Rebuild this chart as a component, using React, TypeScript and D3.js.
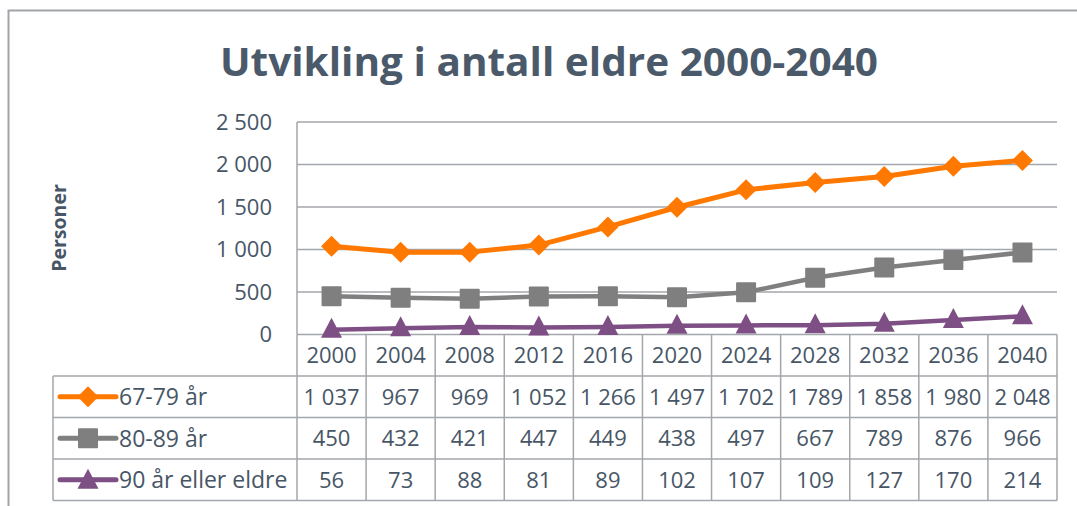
import React from "react";
import * as d3 from "d3";

const years = ["2000", "2004", "2008", "2012", "2016", "2020", "2024", "2028", "2032", "2036", "2040"];
const s6779 = [1037, 967, 969, 1052, 1266, 1497, 1702, 1789, 1858, 1980, 2048];
const s8089 = [450, 432, 421, 447, 449, 438, 497, 667, 789, 876, 966];
const s90 = [56, 73, 88, 81, 89, 102, 107, 109, 127, 170, 214];
const seriesNames = ["67-79 år", "80-89 år", "90 år eller eldre"];
const yTicks = [0, 500, 1000, 1500, 2000, 2500];

const TEXT = "#475666";
const GRID = "#A3A6AA";
const colors = ["#FF7800", "#7F7F7F", "#7E4F84"];
const markers = ["diamond", "square", "triangle"];

const fmt = (v: number) => {
  const s = String(v);
  return s.length > 3 ? s.slice(0, s.length - 3) + " " + s.slice(-3) : s;
};

function Marker({ type, x, y, color }: { type: string; x: number; y: number; color: string }) {
  if (type === "diamond") {
    const r = 10.5;
    return <path d={`M${x},${y - r}L${x + r},${y}L${x},${y + r}L${x - r},${y}Z`} fill={color} />;
  }
  if (type === "square") {
    return <rect x={x - 10} y={y - 10} width={20} height={20} fill={color} rx={1} />;
  }
  return <path d={`M${x},${y - 12}L${x + 10.5},${y + 8}L${x - 10.5},${y + 8}Z`} fill={color} />;
}

export default function App() {
  const W = 1077, H = 506;
  const left = 297, right = 1057, top = 122, bottom = 334.5;
  const x = d3.scaleBand<string>().domain(years).range([left, right]);
  const y = d3.scaleLinear().domain([0, 2500]).range([bottom, top]);
  const all = [s6779, s8089, s90];
  const line = d3
    .line<number>()
    .x((_, i) => (x(years[i]) as number) + x.bandwidth() / 2)
    .y((d) => y(d));

  const tableLeft = 53;
  const rowEdges = [bottom, 376, 417.5, 459, 500.5];
  const font = "'Open Sans', 'Noto Sans', sans-serif";
  const FS = 22;

  return (
    <svg width={W} height={H} style={{ position: "absolute", left: 0, top: 0, background: "#fff" }} fontFamily={font}>
      <rect x={8.5} y={10.5} width={1100} height={600} fill="#fff" stroke="#A0A3A7" strokeWidth={2} />
      <text x={549} y={76} textAnchor="middle" fontSize={39} fontWeight={700} fill="#4B5A6B" textLength={658} lengthAdjust="spacingAndGlyphs">
        Utvikling i antall eldre 2000-2040
      </text>
      <text transform="translate(66,228) rotate(-90)" textAnchor="middle" fontSize={19.5} fontWeight={700} fill={TEXT}>
        Personer
      </text>
      {yTicks.map((t) => (
        <g key={t}>
          {t > 0 && <line x1={left} x2={right} y1={y(t)} y2={y(t)} stroke={GRID} strokeWidth={1.5} />}
          <text x={272} y={y(t)} dy="0.36em" textAnchor="end" fontSize={FS} fill={TEXT}>
            {fmt(t)}
          </text>
        </g>
      ))}
      <line x1={left} x2={left} y1={top} y2={bottom} stroke={GRID} strokeWidth={1.5} />
      {rowEdges.map((ry, i) => (
        <line key={"h" + i} x1={i === 0 ? left : tableLeft} x2={right} y1={ry} y2={ry} stroke={GRID} strokeWidth={1.5} />
      ))}
      <line x1={tableLeft} x2={tableLeft} y1={rowEdges[1]} y2={rowEdges[4]} stroke={GRID} strokeWidth={1.5} />
      {years.map((yr) => (
        <line key={"v" + yr} x1={x(yr) as number} x2={x(yr) as number} y1={bottom} y2={rowEdges[4]} stroke={GRID} strokeWidth={1.5} />
      ))}
      <line x1={right} x2={right} y1={bottom} y2={rowEdges[4]} stroke={GRID} strokeWidth={1.5} />
      {years.map((yr) => (
        <text key={"y" + yr} x={(x(yr) as number) + x.bandwidth() / 2} y={(rowEdges[0] + rowEdges[1]) / 2} dy="0.36em" textAnchor="middle" fontSize={FS} fill={TEXT}>
          {yr}
        </text>
      ))}
      {all.map((s, si) => {
        const cy = (rowEdges[si + 1] + rowEdges[si + 2]) / 2;
        return (
          <g key={"row" + si}>
            <line x1={60} x2={116} y1={cy} y2={cy} stroke={colors[si]} strokeWidth={5} strokeLinecap="round" />
            <Marker type={markers[si]} x={88} y={cy + (si === 2 ? 1 : 0)} color={colors[si]} />
            <text x={119} y={cy} dy="0.36em" fontSize={23} fill={TEXT}>
              {seriesNames[si]}
            </text>
            {s.map((v, i) => (
              <text key={i} x={(x(years[i]) as number) + x.bandwidth() / 2} y={cy} dy="0.36em" textAnchor="middle" fontSize={FS} fill={TEXT}>
                {fmt(v)}
              </text>
            ))}
          </g>
        );
      })}
      {all.map((s, si) => (
        <g key={"s" + si}>
          <path d={line(s) as string} fill="none" stroke={colors[si]} strokeWidth={si === 0 ? 5 : 4.5} strokeLinejoin="round" />
          {s.map((v, i) => (
            <Marker key={i} type={markers[si]} x={(x(years[i]) as number) + x.bandwidth() / 2} y={y(v)} color={colors[si]} />
          ))}
        </g>
      ))}
    </svg>
  );
}
